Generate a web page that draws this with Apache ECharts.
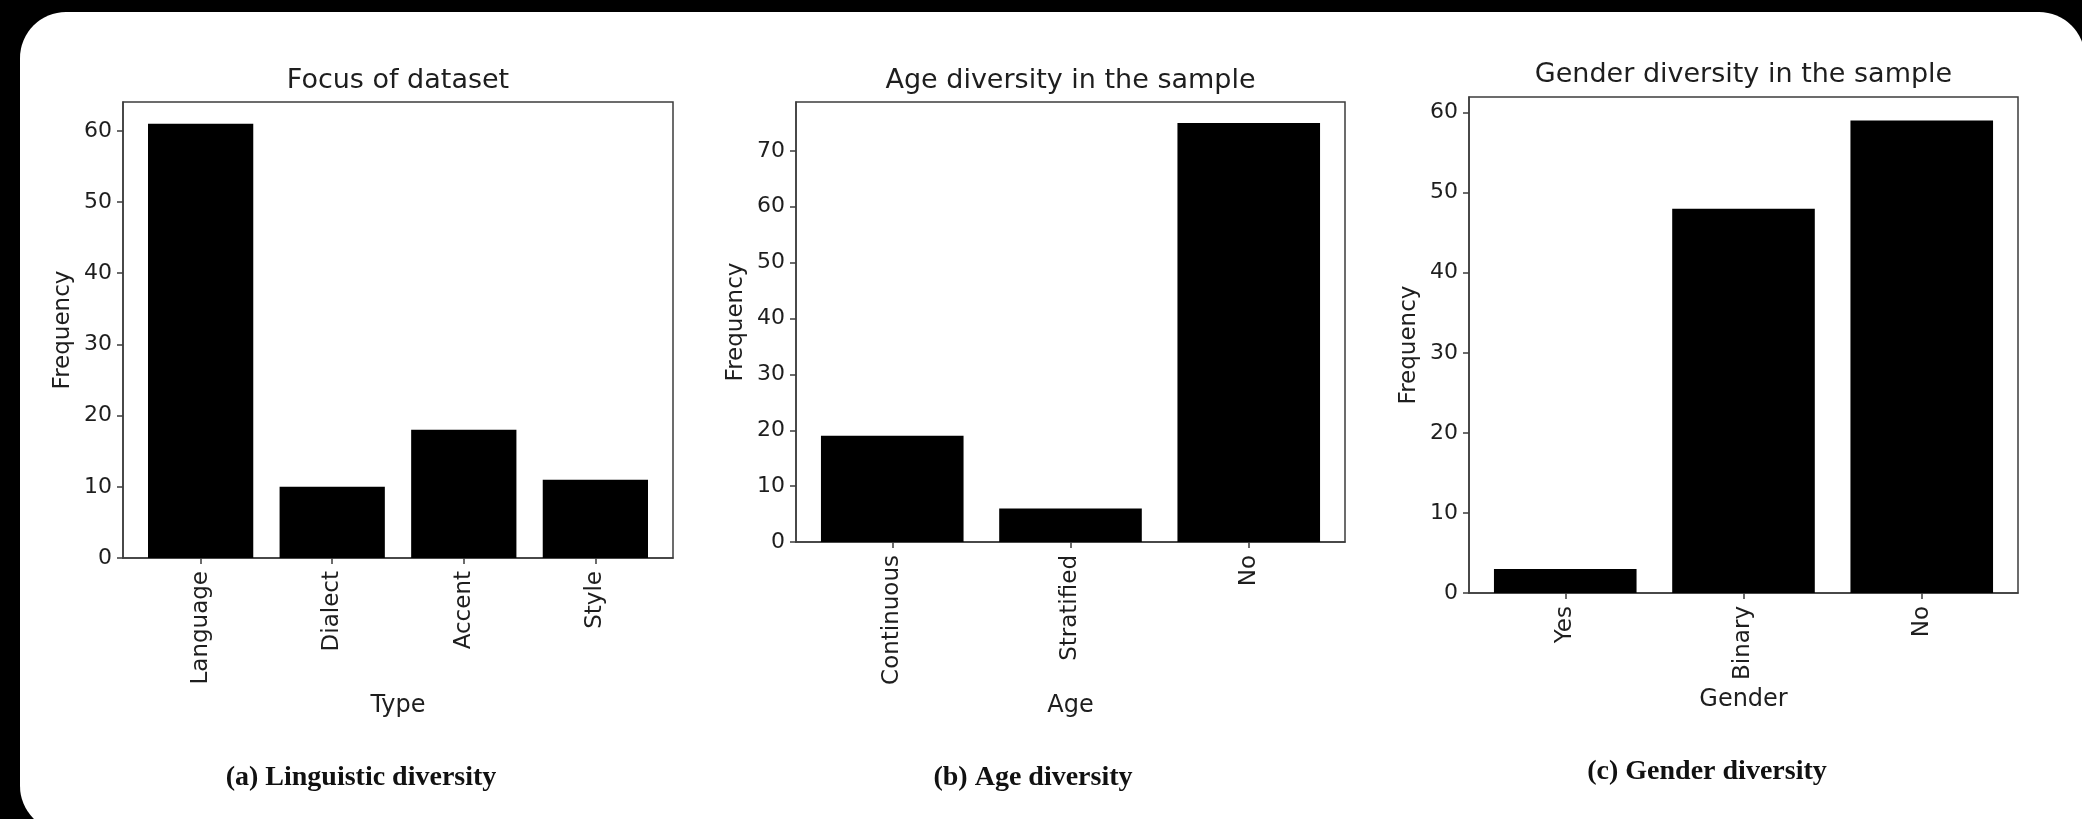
<!DOCTYPE html>
<html>
<head>
<meta charset="utf-8">
<script src="https://cdn.jsdelivr.net/npm/echarts@6/dist/echarts.min.js"></script>
<style>
  html, body { margin: 0; padding: 0; background: #000; }
  #chart { width: 2082px; height: 819px; }
</style>
</head>
<body>
<div id="chart"></div>
<script>
// data
const typeCats = ['Language', 'Dialect', 'Accent', 'Style']
const typeFreq = [61, 10, 18, 11]
const typeTicks = [0, 10, 20, 30, 40, 50, 60]

const ageCats = ['Continuous', 'Stratified', 'No']
const ageFreq = [19, 6, 75]
const ageTicks = [0, 10, 20, 30, 40, 50, 60, 70]

const genderCats = ['Yes', 'Binary', 'No']
const genderFreq = [3, 48, 59]
const genderTicks = [0, 10, 20, 30, 40, 50, 60]

/* layout of each panel, in px */
const panels = [
  { cats: typeCats, values: typeFreq, ticks: typeTicks,
    grid: { left: 123, top: 102, width: 550, height: 456 },
    title: 'Focus of dataset', titleY: 81,
    xName: 'Type', xGap: 136,
    caption: '(a) Linguistic diversity', capX: 361, capY: 778 },
  { cats: ageCats, values: ageFreq, ticks: ageTicks,
    grid: { left: 796, top: 102, width: 549, height: 440 },
    title: 'Age diversity in the sample', titleY: 81,
    xName: 'Age', xGap: 152,
    caption: '(b) Age diversity', capX: 1033, capY: 778 },
  { cats: genderCats, values: genderFreq, ticks: genderTicks,
    grid: { left: 1469, top: 97, width: 549, height: 496 },
    title: 'Gender diversity in the sample', titleY: 75,
    xName: 'Gender', xGap: 94,
    caption: '(c) Gender diversity', capX: 1707, capY: 772 }
]

const FONT = 'DejaVu Sans'
const INK = '#1e1e1e'
const FRAME = '#3c3c3c'

const chart = echarts.init(document.getElementById('chart'), null, { renderer: 'canvas' })

const grids = [], xAxes = [], yAxes = [], series = []
// white rounded card on the black page (bottom-right runs off the page)
const graphics = [{
  type: 'rect', z: -10, silent: true,
  shape: { x: 20, y: 12, width: 2065, height: 820, r: [46, 46, 0, 46] },
  style: { fill: '#fff' }
}]

panels.forEach((p, i) => {
  const n = p.cats.length
  // matplotlib style x limits: bar width 0.8 plus 5% margin
  const pad = 0.05 * (n - 1 + 0.8)
  const idx = p.cats.map((c, k) => k)

  grids.push(Object.assign({
    show: true, borderColor: FRAME, borderWidth: 1.5, backgroundColor: 'transparent'
  }, p.grid))

  xAxes.push({
    gridIndex: i, type: 'value',
    min: -0.4 - pad, max: n - 1 + 0.4 + pad,
    name: p.xName, nameLocation: 'middle', nameGap: p.xGap,
    nameTextStyle: { fontFamily: FONT, fontSize: 24, color: INK },
    axisLine: { show: true, onZero: false, lineStyle: { color: FRAME, width: 1.5 } },
    axisTick: { show: true, length: 6, customValues: idx, lineStyle: { color: FRAME, width: 1.5 } },
    axisLabel: {
      customValues: idx, rotate: 90, margin: 13,
      fontFamily: FONT, fontSize: 23, color: INK,
      formatter: v => p.cats[Math.round(v)]
    },
    splitLine: { show: false }
  })

  yAxes.push({
    gridIndex: i, type: 'value',
    min: 0, max: 1.05 * Math.max(...p.values),
    name: 'Frequency', nameLocation: 'middle', nameRotate: 90, nameGap: 48,
    nameTextStyle: { fontFamily: FONT, fontSize: 23, color: INK },
    axisLine: { show: true, onZero: false, lineStyle: { color: FRAME, width: 1.5 } },
    axisTick: { show: true, length: 6, customValues: p.ticks, lineStyle: { color: FRAME, width: 1.5 } },
    axisLabel: { customValues: p.ticks, margin: 11, fontFamily: FONT, fontSize: 22, color: INK },
    splitLine: { show: false }
  })

  series.push({
    type: 'bar', xAxisIndex: i, yAxisIndex: i,
    barWidth: '80%',
    itemStyle: { color: '#000' },
    data: p.values.map((v, k) => [k, v])
  })

  graphics.push({
    type: 'text', z: 100, silent: true,
    x: p.grid.left + p.grid.width / 2, y: p.titleY,
    style: { text: p.title, fill: INK, font: '27px "' + FONT + '"',
      align: 'center', verticalAlign: 'middle', textAlign: 'center', textVerticalAlign: 'middle' }
  })
  graphics.push({
    type: 'text', z: 100, silent: true,
    x: p.capX, y: p.capY,
    style: { text: p.caption, fill: '#111', font: 'bold 28px "Liberation Serif"',
      align: 'center', verticalAlign: 'middle', textAlign: 'center', textVerticalAlign: 'middle' }
  })
})

chart.setOption({
  backgroundColor: '#000',
  animation: false,
  grid: grids,
  xAxis: xAxes,
  yAxis: yAxes,
  series: series,
  graphic: graphics
})
</script>
</body>
</html>
